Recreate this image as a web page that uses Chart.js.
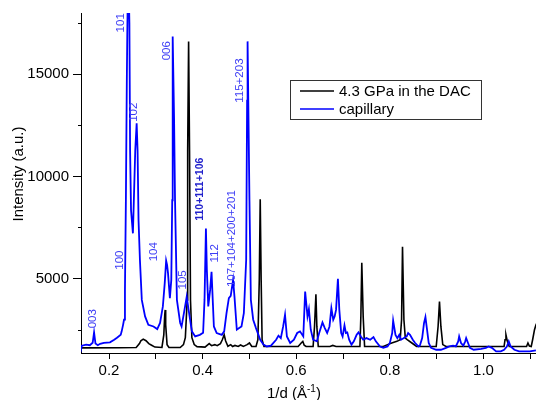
<!DOCTYPE html>
<html>
<head>
<meta charset="utf-8">
<script src="https://cdn.jsdelivr.net/npm/chart.js@4/dist/chart.umd.min.js"></script>
<style>
  html, body { margin: 0; padding: 0; background: #fff; }
  #chart { display: block; }
</style>
</head>
<body>
<canvas id="chart" width="536" height="400"></canvas>
<script>
// series names
const seriesNames = ['4.3 GPa in the DAC', 'capillary'];

// 4.3 GPa in the DAC (black)
const dacX = [0.140, 0.223, 0.258, 0.265, 0.268, 0.273, 0.279, 0.285, 0.291, 0.298, 0.313, 0.317, 0.319, 0.320, 0.321, 0.324, 0.328,
  0.352, 0.359, 0.363, 0.367, 0.368, 0.370, 0.372, 0.374, 0.377, 0.382, 0.388, 0.405, 0.414, 0.419, 0.426, 0.431, 0.438, 0.442,
  0.446, 0.449, 0.454, 0.460, 0.464, 0.469, 0.476, 0.481, 0.487, 0.495, 0.500, 0.505, 0.514, 0.518, 0.521, 0.523, 0.525, 0.527,
  0.531, 0.565, 0.604, 0.611, 0.614, 0.617, 0.621, 0.636, 0.639, 0.642, 0.644, 0.647, 0.672, 0.678, 0.685, 0.736, 0.738, 0.740,
  0.743, 0.746, 0.786, 0.795, 0.804, 0.815, 0.822, 0.825, 0.827, 0.830, 0.833, 0.837, 0.847, 0.857, 0.899, 0.903, 0.906, 0.909,
  0.913, 0.920, 1.044, 1.046, 1.048, 1.051, 1.055, 1.092, 1.095, 1.098, 1.102, 1.105, 1.109, 1.112, 1.118];
const dacY = [1600, 1610, 1620, 1810, 1950, 2030, 1950, 1810, 1730, 1640, 1620, 2240, 3220, 3460, 2730, 1760, 1620,
  1620, 1760, 2100, 3950, 11270, 16610, 11270, 3950, 2100, 1760, 1660, 1640, 1810, 1710, 1760, 1710, 1810, 2000,
  2240, 1950, 1680, 1760, 1670, 1720, 1670, 1740, 1670, 1760, 1840, 1670, 1670, 2000, 4930, 8880, 4930, 2000,
  1670, 1670, 1670, 1850, 1920, 1730, 1670, 1670, 2640, 4230, 2640, 1670, 1670, 1720, 1670, 1670, 3120, 5770,
  3120, 1670, 1670, 1760, 1840, 1920, 2000, 2980, 6550, 2980, 2080, 2000, 1840, 1670, 1670, 2650, 3870, 2650,
  1760, 1670, 1670, 2000, 2240, 1920, 1670, 1670, 1840, 1690, 1670, 2000, 2490, 2720, 3000];

// capillary (blue)
const capX = [0.139, 0.142, 0.151, 0.159, 0.165, 0.168, 0.171, 0.176, 0.181, 0.189, 0.202, 0.211, 0.217, 0.225, 0.227, 0.230,
  0.232, 0.234, 0.236, 0.238, 0.239, 0.241, 0.2435, 0.245, 0.247, 0.251, 0.253, 0.256, 0.259, 0.261, 0.263, 0.266, 0.270,
  0.277, 0.284, 0.295, 0.303, 0.309, 0.315, 0.319, 0.322, 0.324, 0.326, 0.330, 0.333, 0.335, 0.336, 0.339, 0.341, 0.345,
  0.352, 0.355, 0.360, 0.366, 0.370, 0.377, 0.384, 0.394, 0.401, 0.404, 0.407, 0.409, 0.412, 0.416, 0.419, 0.422, 0.424,
  0.430, 0.441, 0.446, 0.451, 0.456, 0.460, 0.465, 0.468, 0.473, 0.478, 0.483, 0.488, 0.493, 0.495, 0.496, 0.498, 0.500,
  0.503, 0.508, 0.514, 0.523, 0.530, 0.537, 0.546, 0.557, 0.562, 0.567, 0.572, 0.576, 0.580, 0.587, 0.595, 0.602, 0.608,
  0.615, 0.619, 0.624, 0.627, 0.631, 0.636, 0.644, 0.649, 0.656, 0.661, 0.666, 0.671, 0.675, 0.679, 0.682, 0.685, 0.689,
  0.692, 0.696, 0.699, 0.703, 0.706, 0.709, 0.713, 0.718, 0.723, 0.729, 0.733, 0.738, 0.743, 0.750, 0.758, 0.765, 0.770,
  0.779, 0.786, 0.795, 0.800, 0.805, 0.807, 0.812, 0.816, 0.820, 0.824, 0.830, 0.836, 0.839, 0.843, 0.849, 0.854, 0.861,
  0.864, 0.869, 0.873, 0.876, 0.879, 0.883, 0.888, 0.899, 0.909, 0.920, 0.927, 0.935, 0.941, 0.946, 0.948, 0.952, 0.957,
  0.961, 0.963, 0.967, 0.971, 0.979, 0.995, 1.005, 1.011, 1.018, 1.027, 1.037, 1.044, 1.050, 1.054, 1.058, 1.066, 1.076,
  1.089, 1.099, 1.112];
const capY = [1400, 1710, 1760, 1730, 1850, 2360, 1810, 1730, 1800, 1850, 1870, 2000, 2100, 2240, 2410, 2730,
  2980, 4440, 8830, 14690, 17000, 20500, 17500, 11270, 8340, 7210, 8830, 11270, 12600, 11270, 7860, 5900, 3950,
  3140, 2730, 2650, 2520, 2820, 3630, 4770, 5870, 5660, 5260, 4040, 4930, 8830, 16850, 12740, 8830, 3950,
  2820, 2650, 3300, 4110, 3460, 2410, 2160, 2240, 2340, 3950, 7450, 5420, 3630, 4440, 5330, 3710, 2650,
  2330, 2240, 2410, 3300, 4040, 4150, 4930, 4110, 2490, 2570, 2650, 3300, 5900, 13710, 16610, 12740, 8830,
  3950, 2980, 2570, 2000, 1760, 1670, 1710, 2000, 2200, 2080, 2650, 3220, 2160, 1840, 2000, 2330, 2410,
  2160, 4360, 3140, 3500, 2490, 2000, 1920, 2330, 2850, 2570, 2330, 2650, 3550, 2980, 3140, 3460, 4980,
  3460, 2330, 2160, 2700, 2330, 2360, 2000, 1760, 1920, 2240, 2360, 2160, 2000, 2080, 2000, 2130, 1920,
  1670, 1600, 1670, 1840, 2330, 2940, 2240, 2080, 2240, 2000, 2080, 2160, 2330, 2240, 2000, 1840, 1670,
  1710, 2080, 2820, 3110, 2570, 1840, 1600, 1510, 1510, 1600, 1670, 1710, 1670, 1920, 2160, 1840, 1710,
  1920, 2080, 1840, 1600, 1510, 1550, 1600, 1670, 1600, 1430, 1430, 1510, 1670, 1920, 1670, 1510, 1430,
  1430, 1430, 1480];

// tick positions and labels ('' = minor tick)
const xTickValues = [0.2, 0.3, 0.4, 0.5, 0.6, 0.7, 0.8, 0.9, 1.0, 1.1];
const xTickLabels = ['0.2', '', '0.4', '', '0.6', '', '0.8', '', '1.0', ''];
const yTickValues = [2500, 5000, 7500, 10000, 12500, 15000, 17500];
const yTickLabels = ['', '5000', '', '10000', '', '15000', ''];

// reflection labels and where they sit (data units)
const peakLabels = ['003', '100', '101', '102', '104', '006', '105', '110+111+106', '112', '107+104+200+201', '115+203'];
const peakLabelX = [0.166, 0.223, 0.225, 0.252, 0.296, 0.323, 0.357, 0.394, 0.426, 0.462, 0.480];
const peakLabelY = [3030, 5900, 17520, 13140, 6310, 16150, 4930, 9370, 6230, 6950, 14690];

const xMin = 0.1401, xMax = 1.1122;
const yMin = 1350, yMax = 18000;

const FONT = 'Liberation Sans, Arial, sans-serif';

const toPoints = (xs, ys) => xs.map((x, i) => ({ x: x, y: ys[i] }));

const extras = {
    id: 'extras',
    afterDraw(chart) {
        const ctx = chart.ctx;
        const xs = chart.scales.x;
        const ys = chart.scales.y;
        const area = chart.chartArea;

        // short minor ticks on the y axis
        ctx.save();
        ctx.strokeStyle = '#000';
        ctx.lineWidth = 1;
        yTickValues.forEach((v, i) => {
            if (yTickLabels[i]) return;
            const py = Math.round(ys.getPixelForValue(v)) + 0.5;
            ctx.beginPath();
            ctx.moveTo(area.left - 3, py);
            ctx.lineTo(area.left, py);
            ctx.stroke();
        });
        ctx.restore();

        // peak labels
        ctx.save();
        peakLabels.forEach((t, i) => {
            const px = xs.getPixelForValue(peakLabelX[i]);
            const py = ys.getPixelForValue(peakLabelY[i]);
            ctx.save();
            ctx.translate(px, py);
            ctx.rotate(-Math.PI / 2);
            if (t === '110+111+106') {
                ctx.font = 'bold 10.5px ' + FONT;
                ctx.fillStyle = '#2222cc';
            } else {
                ctx.font = '11.5px ' + FONT;
                ctx.fillStyle = '#3c3cf5';
            }
            ctx.textAlign = 'center';
            ctx.textBaseline = 'middle';
            ctx.fillText(t, 0, 0);
            ctx.restore();
        });
        ctx.restore();

        // axis titles
        ctx.save();
        ctx.fillStyle = '#000';
        ctx.font = '15px ' + FONT;
        ctx.textAlign = 'center';
        ctx.textBaseline = 'middle';
        ctx.translate(19, 174);
        ctx.rotate(-Math.PI / 2);
        ctx.fillText('Intensity (a.u.)', 0, 0);
        ctx.restore();

        ctx.save();
        ctx.fillStyle = '#000';
        ctx.textBaseline = 'alphabetic';
        ctx.textAlign = 'left';
        let tx = 267;
        const base = 398;
        ctx.font = '15px ' + FONT;
        ctx.fillText('1/d (Å', tx, base);
        tx += ctx.measureText('1/d (Å').width;
        ctx.font = '10px ' + FONT;
        ctx.fillText('-1', tx, base - 6);
        tx += ctx.measureText('-1').width;
        ctx.font = '15px ' + FONT;
        ctx.fillText(')', tx, base);
        ctx.restore();

        // legend box
        const lx = area.left + 209, ly = area.top + 67;
        const lw = 191, lh = 39;
        ctx.save();
        ctx.fillStyle = '#fff';
        ctx.fillRect(lx, ly, lw, lh);
        ctx.strokeStyle = '#333';
        ctx.lineWidth = 1;
        ctx.strokeRect(lx + 0.5, ly + 0.5, lw, lh);
        ctx.font = '15px ' + FONT;
        ctx.textBaseline = 'middle';
        ctx.fillStyle = '#000';
        chart.data.datasets.forEach((ds, i) => {
            const yy = ly + 11 + i * 18;
            ctx.strokeStyle = ds.borderColor;
            ctx.lineWidth = 1.5;
            ctx.beginPath();
            ctx.moveTo(lx + 10, yy);
            ctx.lineTo(lx + 44, yy);
            ctx.stroke();
            ctx.fillText(ds.label, lx + 49, yy + 1);
        });
        ctx.restore();
    }
};

new Chart(document.getElementById('chart'), {
    type: 'scatter',
    data: {
        datasets: [
            {
                label: seriesNames[0],
                data: toPoints(dacX, dacY),
                showLine: true,
                borderColor: '#000000',
                borderWidth: 1.6,
                pointRadius: 0,
                tension: 0,
                order: 1
            },
            {
                label: seriesNames[1],
                data: toPoints(capX, capY),
                showLine: true,
                borderColor: '#0000ff',
                borderWidth: 1.8,
                pointRadius: 0,
                tension: 0,
                order: 0
            }
        ]
    },
    options: {
        responsive: false,
        animation: false,
        devicePixelRatio: 1,
        layout: { padding: { top: 12, left: 0, right: 0, bottom: 0 } },
        plugins: {
            legend: { display: false },
            tooltip: { enabled: false }
        },
        scales: {
            x: {
                type: 'linear',
                min: xMin,
                max: xMax,
                afterFit: (scale) => { scale.height = 47; },
                afterBuildTicks: (scale) => { scale.ticks = xTickValues.map(v => ({ value: v })); },
                ticks: {
                    autoSkip: false,
                    maxRotation: 0,
                    padding: 3,
                    color: '#000',
                    font: { family: FONT, size: 15 },
                    callback: (v, i) => xTickLabels[i]
                },
                grid: { drawOnChartArea: false, drawTicks: true, tickLength: 6, color: '#000' },
                border: { color: '#000', width: 1 }
            },
            y: {
                type: 'linear',
                min: yMin,
                max: yMax,
                afterFit: (scale) => { scale.width = 81; },
                afterBuildTicks: (scale) => { scale.ticks = yTickValues.map(v => ({ value: v })); },
                ticks: {
                    autoSkip: false,
                    padding: 4,
                    color: '#000',
                    font: { family: FONT, size: 15 },
                    callback: (v, i) => yTickLabels[i]
                },
                grid: {
                    drawOnChartArea: false,
                    drawTicks: true,
                    tickLength: 8,
                    color: '#000',
                    tickColor: (c) => (yTickLabels[c.index] ? '#000' : 'rgba(0,0,0,0)')
                },
                border: { color: '#000', width: 1 }
            }
        }
    },
    plugins: [extras]
});
</script>
</body>
</html>
